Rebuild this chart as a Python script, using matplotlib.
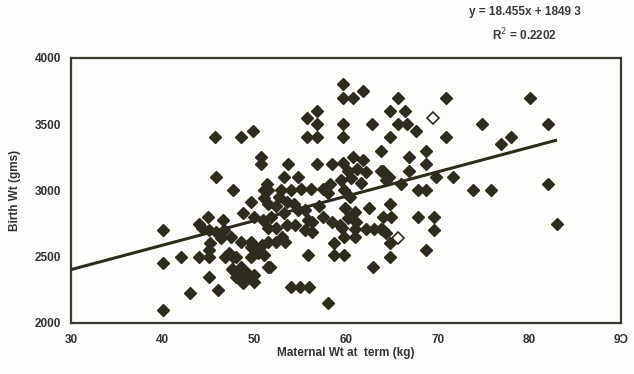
import matplotlib
matplotlib.use("Agg")
import matplotlib.pyplot as plt
import numpy as np

plt.rcParams['font.family'] = ['Liberation Sans', 'DejaVu Sans']

# Maternal weight at term (kg) and birth weight (g)
maternal_wt = [
    40, 40, 40, 42, 43, 44, 44, 44.3, 44.9, 45, 45, 45, 45, 45.7, 45.8,
    45.8, 46, 46.3, 46.7, 46.8, 47.2, 47.7, 48, 47.7, 48, 48.5, 49, 50, 49.5, 48.7,
    48.5, 49.8, 48.5, 49.6, 50.3, 50.8, 48.8, 49.9, 50.9, 49.6, 51, 51,
    50.7, 50.7, 49.6, 50.4, 49.6, 47.7, 51.5, 47.5, 48.3, 49.2, 50, 49,
    53.7, 56.8, 58.5, 59.7, 60.7, 61.8,
    55.7, 56.8, 56.8, 55.7, 56.8, 59.7, 59.7, 60.7, 61.8, 59.7, 59.7, 62.8,
    51.4, 53.2, 54.7, 60.2, 61.2, 62.2, 63.8, 59.4, 60.5, 61.6,
    51.5, 52.9, 54.0, 55.1, 56.2, 57.5, 59.8, 64.3,
    52.7, 53.6, 51.5, 52.4, 54.7, 55.5, 53.2, 55.8, 56.3, 51.8,
    51.5, 52.4, 53.5, 54.4, 55.5, 56.3,
    59.9, 61.0, 60.2, 61.1, 58.5, 59.3, 59.6, 61.0, 62.2, 63.0, 63.8,
    59.8, 61.0, 58.7, 64.3, 51.5, 52.4, 53.3, 51.0, 55.8, 58.7, 59.8,
    51.7, 62.9, 54, 55, 56, 58,
    64.8, 66.4, 65.7, 65.7, 66.6, 67.6, 64.8, 63.8, 68.7, 66.8, 68.7,
    66.8, 64.0, 64.7, 69.8, 71.7, 66.0, 67.8, 68.7, 73.8, 75.8, 64.8,
    64.0, 64.9, 67.8, 69.6, 69.6, 64.0, 64.8, 68.7, 64.8,
    70.9, 80, 74.8, 82, 70.9, 76.9, 78, 82, 83,
    57.5, 58.2, 60.4, 62.5, 45.2, 46.6, 47.4, 53.0, 54.3, 57.0, 58.0,
]
birth_wt = [
    2700, 2450, 2100, 2500, 2230, 2500, 2750, 2720, 2800, 2700, 2550, 2500, 2350, 3400, 3100,
    2690, 2250, 2640, 2700, 2500, 2530, 3000, 2500, 2400, 2350, 2420, 2380, 2310, 2350, 2300,
    3400, 3450, 2610, 2610, 2560, 2590, 2830, 2800, 2780, 2910, 2940, 3000,
    3250, 3200, 2570, 2530, 2500, 2500, 2420, 2410, 2400, 2380, 2360, 2330,
    3200, 3200, 3200, 3210, 3250, 3230,
    3550, 3600, 3500, 3400, 3400, 3800, 3700, 3700, 3750, 3500, 3400, 3500,
    3050, 3100, 3100, 3150, 3160, 3140, 3150, 3080, 3095, 3060,
    3000, 3000, 3000, 3010, 3010, 3010, 3000, 3080,
    2950, 2910, 2900, 2880, 2850, 2850, 2830, 2780, 2760, 2800,
    2720, 2720, 2740, 2740, 2700, 2690,
    2870, 2840, 2790, 2760, 2760, 2740, 2720, 2710, 2710, 2710, 2710,
    2650, 2650, 2600, 2680, 2610, 2610, 2610, 2510, 2510, 2510, 2510,
    2420, 2420, 2270, 2270, 2270, 2150,
    3600, 3600, 3700, 3500, 3500, 3450, 3400, 3300, 3300, 3250, 3200,
    3150, 3150, 3100, 3100, 3100, 3050, 3000, 3000, 3000, 3000, 2900,
    2800, 2800, 2800, 2800, 2700, 2700, 2600, 2550, 2500,
    3700, 3700, 3500, 3500, 3400, 3350, 3400, 3050, 2750,
    2800, 3050, 2950, 2870, 2600, 2780, 2650, 2650, 2900, 2880, 2980,
]
# Points drawn with a broken (dashed) outline in the scan
faint_wt = [69.5, 65.7]
faint_bw = [3550, 2640]

# Linear trendline reported on the chart
slope, intercept = 18.455, 1849.3
trend_x = [30, 83]

x_ticks = [30, 40, 50, 60, 70, 80, 90]
x_tick_labels = ['30', '40', '50', '60', '70', '80', '9\u0186']
y_ticks = [2000, 2500, 3000, 3500, 4000]

ink = '#2e2c1c'
bg = '#fdfdfb'

fig = plt.figure(figsize=(6.34, 3.74), dpi=100, facecolor=bg)
ax = fig.add_axes([0.112, 0.1364, 0.868, 0.7086])
ax.set_facecolor(bg)

ax.plot(maternal_wt, birth_wt, linestyle='none', marker='D', ms=6.0,
        color=ink, markeredgecolor=ink, zorder=3)
ax.plot(faint_wt, faint_bw, linestyle='none', marker='D', ms=6.0,
        markerfacecolor='none', markeredgecolor=ink, markeredgewidth=1.2,
        zorder=3)

tx = np.array(trend_x, dtype=float)
ax.plot(tx, slope * tx + intercept, color=ink, lw=2.2, zorder=4,
        solid_capstyle='butt')

ax.set_xlim(30, 90)
ax.set_ylim(2000, 4000)
ax.set_xticks(x_ticks)
ax.set_xticklabels(x_tick_labels)
ax.set_yticks(y_ticks)
ax.tick_params(axis='x', length=0, labelsize=8.5, colors='#333333', pad=8)
ax.tick_params(axis='y', length=0, labelsize=8.5, colors='#333333', pad=7)
for lab in ax.get_xticklabels() + ax.get_yticklabels():
    lab.set_fontweight('bold')
for sp in ax.spines.values():
    sp.set_color('#3a3a30')
    sp.set_linewidth(1.6)

ax.set_xlabel('Maternal Wt at  term (kg)', fontsize=8.5, fontweight='bold',
              color='#333333', labelpad=1)
ax.set_ylabel('Birth Wt (gms)', fontsize=8.5, fontweight='bold',
              color='#333333', labelpad=10)

fig.text(0.828, 0.967, 'y = 18.455x + 1849 3', ha='center', va='center',
         fontsize=8.5, fontweight='bold', color='#3a3a3a')
fig.text(0.828, 0.907, 'R$^2$ = 0.2202', ha='center', va='center',
         fontsize=8.5, fontweight='bold', color='#3a3a3a')

fig.savefig('out.png', dpi=100, facecolor=bg)
